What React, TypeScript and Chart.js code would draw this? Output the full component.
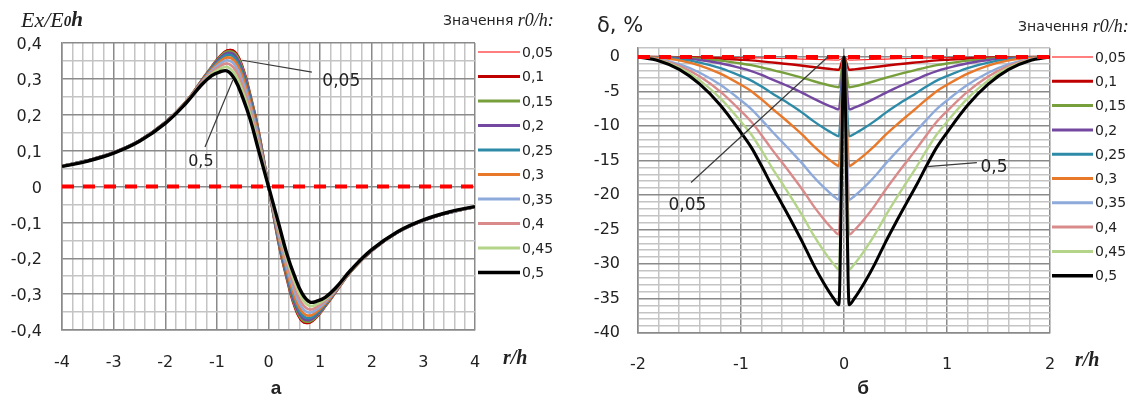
import React, { useEffect, useRef } from "react";
import { Chart, registerables } from "chart.js";

Chart.register(...registerables);

// ---------------- data ----------------
const SERIES_LABELS = ["0,05", "0,1", "0,15", "0,2", "0,25", "0,3", "0,35", "0,4", "0,45", "0,5"];

// chart "а": Ex/E0h versus r/h
const EX_X = [-4, -3.5, -3, -2.5, -2, -1.6, -1.3, -1.1, -0.95, -0.8, -0.65, -0.5, -0.35, -0.2, 0, 0.2, 0.35, 0.5, 0.65, 0.8, 0.95, 1.1, 1.3, 1.6, 2, 2.5, 3, 3.5, 4];
const EX_R005 = [0.057, 0.073, 0.095, 0.128, 0.179, 0.236, 0.295, 0.335, 0.362, 0.381, 0.377, 0.335, 0.256, 0.163, 0, -0.163, -0.256, -0.335, -0.377, -0.381, -0.362, -0.335, -0.295, -0.236, -0.179, -0.128, -0.095, -0.073, -0.057];
const EX_R010 = [0.057, 0.073, 0.095, 0.128, 0.179, 0.236, 0.295, 0.334, 0.361, 0.379, 0.375, 0.332, 0.254, 0.161, 0, -0.161, -0.254, -0.332, -0.375, -0.379, -0.361, -0.334, -0.295, -0.236, -0.179, -0.128, -0.095, -0.073, -0.057];
const EX_R015 = [0.057, 0.073, 0.095, 0.128, 0.179, 0.236, 0.294, 0.333, 0.359, 0.376, 0.371, 0.328, 0.25, 0.158, 0, -0.158, -0.25, -0.328, -0.371, -0.376, -0.359, -0.333, -0.294, -0.236, -0.179, -0.128, -0.095, -0.073, -0.057];
const EX_R020 = [0.057, 0.073, 0.095, 0.128, 0.179, 0.235, 0.293, 0.331, 0.356, 0.372, 0.365, 0.322, 0.245, 0.154, 0, -0.154, -0.245, -0.322, -0.365, -0.372, -0.356, -0.331, -0.293, -0.235, -0.179, -0.128, -0.095, -0.073, -0.057];
const EX_R025 = [0.057, 0.073, 0.095, 0.128, 0.178, 0.235, 0.292, 0.329, 0.352, 0.367, 0.358, 0.314, 0.239, 0.149, 0, -0.149, -0.239, -0.314, -0.358, -0.367, -0.352, -0.329, -0.292, -0.235, -0.178, -0.128, -0.095, -0.073, -0.057];
const EX_R030 = [0.057, 0.072, 0.094, 0.127, 0.178, 0.235, 0.291, 0.326, 0.347, 0.36, 0.349, 0.305, 0.231, 0.143, 0, -0.143, -0.231, -0.305, -0.349, -0.36, -0.347, -0.326, -0.291, -0.235, -0.178, -0.127, -0.094, -0.072, -0.057];
const EX_R035 = [0.056, 0.072, 0.094, 0.127, 0.178, 0.234, 0.289, 0.322, 0.341, 0.352, 0.338, 0.292, 0.221, 0.135, 0, -0.135, -0.221, -0.292, -0.338, -0.352, -0.341, -0.322, -0.289, -0.234, -0.178, -0.127, -0.094, -0.072, -0.056];
const EX_R040 = [0.056, 0.072, 0.094, 0.127, 0.177, 0.233, 0.287, 0.318, 0.334, 0.343, 0.326, 0.279, 0.211, 0.126, 0, -0.126, -0.211, -0.279, -0.326, -0.343, -0.334, -0.318, -0.287, -0.233, -0.177, -0.127, -0.094, -0.072, -0.056];
const EX_R045 = [0.056, 0.071, 0.093, 0.126, 0.177, 0.233, 0.285, 0.314, 0.327, 0.333, 0.313, 0.265, 0.199, 0.116, 0, -0.116, -0.199, -0.265, -0.313, -0.333, -0.327, -0.314, -0.285, -0.233, -0.177, -0.126, -0.093, -0.071, -0.056];
const EX_R050 = [0.056, 0.071, 0.093, 0.126, 0.176, 0.232, 0.283, 0.309, 0.319, 0.322, 0.298, 0.248, 0.185, 0.105, 0, -0.105, -0.185, -0.248, -0.298, -0.322, -0.319, -0.309, -0.283, -0.232, -0.176, -0.126, -0.093, -0.071, -0.056];
const EX_SERIES = [EX_R005, EX_R010, EX_R015, EX_R020, EX_R025, EX_R030, EX_R035, EX_R040, EX_R045, EX_R050];
const EX_ZERO_X = [-4, 4];
const EX_ZERO_Y = [0, 0];

// chart "б": δ, % versus r/h
const DELTA_X = [-2, -1.8, -1.6, -1.4, -1.2, -1, -0.9, -0.8, -0.7, -0.6, -0.5, -0.4, -0.3, -0.2, -0.1, -0.05, 0, 0.05, 0.1, 0.2, 0.3, 0.4, 0.5, 0.6, 0.7, 0.8, 0.9, 1, 1.2, 1.4, 1.6, 1.8, 2];
const D_R005 = [0, 0, -0.01, -0.03, -0.05, -0.1, -0.12, -0.15, -0.19, -0.23, -0.27, -0.31, -0.36, -0.4, -0.44, -0.45, 0, -0.45, -0.44, -0.4, -0.36, -0.31, -0.27, -0.23, -0.19, -0.15, -0.12, -0.1, -0.05, -0.03, -0.01, 0, 0];
const D_R010 = [0, -0.01, -0.04, -0.1, -0.22, -0.4, -0.5, -0.64, -0.79, -0.94, -1.1, -1.27, -1.46, -1.64, -1.79, -1.85, 0, -1.85, -1.79, -1.64, -1.46, -1.27, -1.1, -0.94, -0.79, -0.64, -0.5, -0.4, -0.22, -0.1, -0.04, -0.01, 0];
const D_R015 = [0, -0.02, -0.09, -0.25, -0.53, -0.94, -1.19, -1.51, -1.88, -2.24, -2.62, -3.03, -3.48, -3.89, -4.26, -4.4, 0, -4.4, -4.26, -3.89, -3.48, -3.03, -2.62, -2.24, -1.88, -1.51, -1.19, -0.94, -0.53, -0.25, -0.09, -0.02, 0];
const D_R020 = [0, -0.03, -0.16, -0.43, -0.91, -1.62, -2.05, -2.61, -3.25, -3.87, -4.52, -5.23, -6.01, -6.72, -7.35, -7.6, 0, -7.6, -7.35, -6.72, -6.01, -5.23, -4.52, -3.87, -3.25, -2.61, -2.05, -1.62, -0.91, -0.43, -0.16, -0.03, 0];
const D_R025 = [0, -0.07, -0.32, -0.81, -1.62, -2.77, -3.43, -4.29, -5.25, -6.17, -7.12, -8.14, -9.26, -10.27, -11.16, -11.5, 0, -11.5, -11.16, -10.27, -9.26, -8.14, -7.12, -6.17, -5.25, -4.29, -3.43, -2.77, -1.62, -0.81, -0.32, -0.07, 0];
const D_R030 = [0, -0.13, -0.5, -1.25, -2.41, -4.04, -4.96, -6.15, -7.45, -8.7, -9.99, -11.34, -12.84, -14.18, -15.35, -15.8, 0, -15.8, -15.35, -14.18, -12.84, -11.34, -9.99, -8.7, -7.45, -6.15, -4.96, -4.04, -2.41, -1.25, -0.5, -0.13, 0];
const D_R035 = [0, -0.31, -1.04, -2.28, -4.04, -6.31, -7.56, -9.11, -10.76, -12.32, -13.89, -15.53, -17.28, -18.84, -20.18, -20.7, 0, -20.7, -20.18, -18.84, -17.28, -15.53, -13.89, -12.32, -10.76, -9.11, -7.56, -6.31, -4.04, -2.28, -1.04, -0.31, 0];
const D_R040 = [0, -0.39, -1.29, -2.83, -5.02, -7.85, -9.4, -11.33, -13.39, -15.32, -17.28, -19.31, -21.5, -23.43, -25.11, -25.75, 0, -25.75, -25.11, -23.43, -21.5, -19.31, -17.28, -15.32, -13.39, -11.33, -9.4, -7.85, -5.02, -2.83, -1.29, -0.39, 0];
const D_R045 = [0, -0.46, -1.54, -3.39, -6.01, -9.39, -11.24, -13.55, -16.02, -18.33, -20.67, -23.1, -25.72, -28.03, -30.03, -30.8, 0, -30.8, -30.03, -28.03, -25.72, -23.1, -20.67, -18.33, -16.02, -13.55, -11.24, -9.39, -6.01, -3.39, -1.54, -0.46, 0];
const D_R050 = [0, -0.54, -1.8, -3.95, -7, -10.95, -13.1, -15.8, -18.67, -21.36, -24.09, -26.93, -29.98, -32.67, -35, -35.9, 0, -35.9, -35, -32.67, -29.98, -26.93, -24.09, -21.36, -18.67, -15.8, -13.1, -10.95, -7, -3.95, -1.8, -0.54, 0];
const DELTA_SERIES = [D_R005, D_R010, D_R015, D_R020, D_R025, D_R030, D_R035, D_R040, D_R045, D_R050];
const DELTA_ZERO_X = [-2, 2];
const DELTA_ZERO_Y = [0, 0];

// ---------------- styles ----------------
const COLORS = ["#ff0000", "#c00000", "#77a03c", "#7448a0", "#2e8ba8", "#e8782a", "#8eaadb", "#d98b8b", "#b4d48a", "#000000"];
const WIDTHS_A = [1, 2.6, 2.6, 2.6, 2.6, 2.6, 2.6, 2.6, 2.6, 3.4];
const WIDTHS_B = [1, 2.4, 2.4, 2.4, 2.4, 2.4, 2.4, 2.4, 2.4, 3];
const LEGEND_W = [1.2, 3, 3, 3, 3, 3, 3, 3, 3, 3.4];
const MAJOR = "#8a8a8a";
const MINOR = "#c4c4c4";
const TEXT = "#222222";
const SANS = "'DejaVu Sans', sans-serif";
const SERIF = "'Liberation Serif', serif";

const isMult = (v: number, step: number) => Math.abs(v / step - Math.round(v / step)) < 1e-6;
const fmt = (v: number) => String(Math.round(v * 100) / 100).replace(".", ",");

const decorPlugin = {
  id: "decor",
  afterDraw(chart: any, _args: any, o: any) {
    const ctx = chart.ctx;
    const xs = chart.scales.x;
    const ys = chart.scales.y;
    ctx.save();
    ctx.setLineDash([]);
    ctx.strokeStyle = "#3a3a3a";
    ctx.lineWidth = 1.2;
    for (const l of o.leaders) {
      ctx.beginPath();
      ctx.moveTo(xs.getPixelForValue(l[0]), ys.getPixelForValue(l[1]));
      ctx.lineTo(xs.getPixelForValue(l[2]), ys.getPixelForValue(l[3]));
      ctx.stroke();
    }
    ctx.textBaseline = "middle";
    for (const n of o.notes) {
      ctx.font = n.font;
      ctx.fillStyle = TEXT;
      ctx.textAlign = "center";
      ctx.fillText(n.text, xs.getPixelForValue(n.x), ys.getPixelForValue(n.y));
    }
    for (const r of o.runs) {
      let total = 0;
      for (const p of r.parts) {
        ctx.font = p.font;
        total += ctx.measureText(p.text).width;
      }
      let x = r.align === "center" ? r.x - total / 2 : r.x;
      ctx.textAlign = "left";
      for (const p of r.parts) {
        ctx.font = p.font;
        ctx.fillStyle = p.color || TEXT;
        ctx.fillText(p.text, x, r.y + (p.dy || 0));
        x += ctx.measureText(p.text).width;
      }
    }
    const L = o.legend;
    const items = chart.data.datasets.filter((d: any) => d.inLegend);
    items.forEach((d: any, i: number) => {
      const y = L.y0 + i * L.dy;
      ctx.strokeStyle = d.borderColor;
      ctx.lineWidth = d.legendWidth;
      ctx.beginPath();
      ctx.moveTo(L.x1, y);
      ctx.lineTo(L.x2, y);
      ctx.stroke();
      ctx.font = L.font;
      ctx.fillStyle = TEXT;
      ctx.textAlign = "left";
      ctx.fillText(d.label, L.tx, y + 1);
    });
    ctx.restore();
  },
};

function buildDatasets(xs: number[], series: number[][], widths: number[], zx: number[], zy: number[], mode: string) {
  const ds: any[] = series.map((arr, i) => ({
    label: SERIES_LABELS[i],
    data: xs.map((x, j) => ({ x, y: arr[j] })),
    borderColor: COLORS[i],
    backgroundColor: COLORS[i],
    borderWidth: widths[i],
    pointRadius: 0,
    fill: false,
    tension: 0.4,
    cubicInterpolationMode: mode,
    order: 10 - i,
    inLegend: true,
    legendWidth: LEGEND_W[i],
  }));
  ds.push({
    label: "zero",
    data: zx.map((x, j) => ({ x, y: zy[j] })),
    borderColor: "#ff0000",
    borderWidth: 4,
    borderDash: [12, 9],
    pointRadius: 0,
    fill: false,
    order: 0,
    inLegend: false,
  });
  return ds;
}

function axis(min: number, max: number, step: number, labelStep: number, pad: number, extra: any) {
  return {
    type: "linear",
    min,
    max,
    ticks: {
      stepSize: step,
      autoSkip: false,
      maxRotation: 0,
      minRotation: 0,
      padding: pad,
      color: TEXT,
      font: { family: SANS, size: 16 },
      callback: (v: number) => (isMult(v, labelStep) ? fmt(v) : ""),
      ...(extra.ticks || {}),
    },
    grid: {
      drawTicks: false,
      color: (c: any) => (c.tick && isMult(c.tick.value, labelStep) ? MAJOR : MINOR),
      lineWidth: 1.5,
    },
    border: { display: true, color: MAJOR, width: 1.5 },
    afterFit: extra.afterFit,
  };
}

function makeExConfig(): any {
  return {
    type: "line",
    data: { datasets: buildDatasets(EX_X, EX_SERIES, WIDTHS_A, EX_ZERO_X, EX_ZERO_Y, "default") },
    plugins: [decorPlugin],
    options: {
      responsive: false,
      animation: false,
      events: [],
      layout: { padding: { left: 0, top: 43, right: 95, bottom: 0 } },
      scales: {
        x: axis(-4, 4, 0.2, 1, 23, { afterFit: (s: any) => { s.height = 71; } }),
        y: axis(-0.4, 0.4, 0.05, 0.1, 20, { ticks: { labelOffset: 2 }, afterFit: (s: any) => { s.width = 62; } }),
      },
      plugins: {
        legend: { display: false },
        tooltip: { enabled: false },
        decor: {
          leaders: [
            [-0.51, 0.352, 0.84, 0.319],
            [-0.69, 0.297, -1.23, 0.11],
          ],
          notes: [
            { text: "0,05", x: 1.41, y: 0.292, font: `17px ${SANS}` },
            { text: "0,5", x: -1.31, y: 0.068, font: `16px ${SANS}` },
          ],
          runs: [
            { x: 21, y: 21, parts: [{ text: "Ex/E", font: `italic 22px ${SERIF}` }, { text: "0", font: `italic bold 15px ${SERIF}`, dy: 1 }, { text: "h", font: `italic bold 21px ${SERIF}` }] },
            { x: 443, y: 21, parts: [{ text: "Значення ", font: `14px ${SANS}` }, { text: "r0/h:", font: `italic 18px ${SERIF}` }] },
            { x: 503, y: 359, parts: [{ text: "r/h", font: `italic bold 20px ${SERIF}` }] },
            { x: 276, y: 389, align: "center", parts: [{ text: "а", font: `bold 19px 'Liberation Sans', sans-serif` }] },
          ],
          legend: { x1: 478, x2: 520, tx: 522, y0: 52, dy: 24.5, font: `14px ${SANS}` },
        },
      },
    },
  };
}

function makeDeltaConfig(): any {
  return {
    type: "line",
    data: { datasets: buildDatasets(DELTA_X, DELTA_SERIES, WIDTHS_B, DELTA_ZERO_X, DELTA_ZERO_Y, "monotone") },
    plugins: [decorPlugin],
    options: {
      responsive: false,
      animation: false,
      events: [],
      layout: { padding: { left: 0, top: 48, right: 87, bottom: 0 } },
      scales: {
        x: axis(-2, 2, 0.2, 1, 22, { afterFit: (s: any) => { s.height = 68; } }),
        y: axis(-40, 1.3, 1, 5, 18, { afterFit: (s: any) => { s.width = 68; } }),
      },
      plugins: {
        legend: { display: false },
        tooltip: { enabled: false },
        decor: {
          leaders: [
            [-1.485, -18.2, -0.155, 0.04],
            [0.806, -15.9, 1.29, -15.3],
          ],
          notes: [
            { text: "0,05", x: -1.52, y: -21.6, font: `17px ${SANS}` },
            { text: "0,5", x: 1.456, y: -16.0, font: `17px ${SANS}` },
          ],
          runs: [
            { x: 27, y: 27, parts: [{ text: "δ, %", font: `21px ${SANS}` }] },
            { x: 448, y: 27, parts: [{ text: "Значення ", font: `14px ${SANS}` }, { text: "r0/h:", font: `italic 18px ${SERIF}` }] },
            { x: 505, y: 361, parts: [{ text: "r/h", font: `italic bold 20px ${SERIF}` }] },
            { x: 293, y: 389, align: "center", parts: [{ text: "б", font: `bold 19px 'Liberation Sans', sans-serif` }] },
          ],
          legend: { x1: 482, x2: 523, tx: 525, y0: 57, dy: 24.3, font: `14px ${SANS}` },
        },
      },
    },
  };
}

function ChartCanvas({ left, width, build }: { left: number; width: number; build: () => any }) {
  const ref = useRef<HTMLCanvasElement | null>(null);
  useEffect(() => {
    const chart = new Chart(ref.current as HTMLCanvasElement, build());
    return () => chart.destroy();
  }, []);
  return (
    <canvas
      ref={ref}
      width={width}
      height={401}
      style={{ position: "absolute", left, top: 0, width, height: 401, display: "block" }}
    />
  );
}

export default function App() {
  return (
    <div style={{ position: "absolute", left: 0, top: 0, width: 1137, height: 401, background: "#ffffff", overflow: "hidden" }}>
      <ChartCanvas left={0} width={570} build={makeExConfig} />
      <ChartCanvas left={570} width={567} build={makeDeltaConfig} />
    </div>
  );
}
